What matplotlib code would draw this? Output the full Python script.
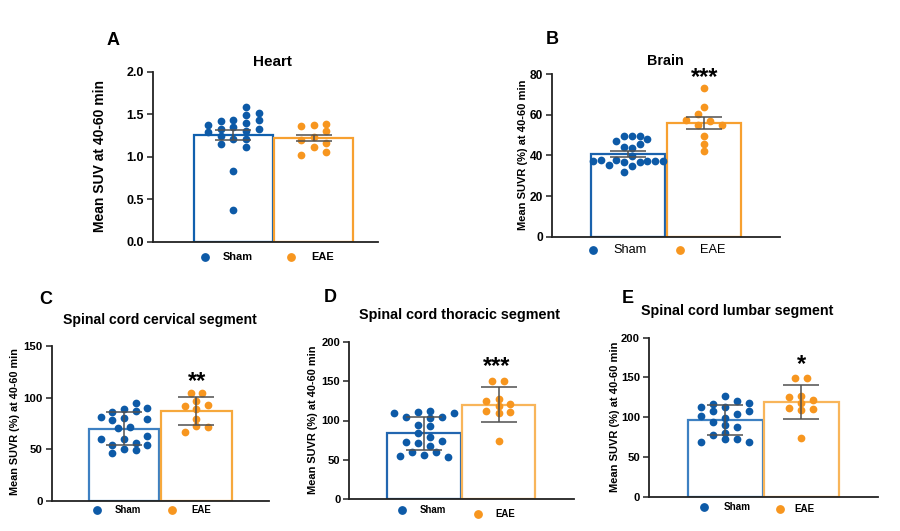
import matplotlib
matplotlib.use("Agg")
import matplotlib.pyplot as plt
from matplotlib.lines import Line2D
import numpy as np

plt.rcParams['font.family'] = ['Liberation Sans', 'DejaVu Sans']

groups = ["Sham", "EAE"]

# ---------------- data ----------------
# Panel A: Heart
A_sham = [1.37, 1.29, 1.42, 1.33, 1.24, 1.15, 1.43, 1.35, 1.21, 0.83, 0.37,
          1.585, 1.49, 1.40, 1.30, 1.21, 1.11, 1.52, 1.43, 1.33]
A_sham_x = [-0.318, -0.318, -0.159, -0.159, -0.159, -0.159, 0, 0, 0, 0, 0,
            0.159, 0.159, 0.159, 0.159, 0.159, 0.159, 0.318, 0.318, 0.318]
A_eae = [1.365, 1.20, 1.02, 1.375, 1.23, 1.12, 1.385, 1.30, 1.165, 1.06]
A_eae_x = [-0.158, -0.158, -0.158, 0, 0, 0, 0.158, 0.158, 0.158, 0.158]
A_mean = [1.26, 1.22]
A_err = [0.06, 0.04]

# Panel B: Brain
B_sham = [37.4, 37.8, 35.2, 37.8, 47.0, 49.6, 44.0, 36.9, 32.0, 49.6, 43.8, 39.8, 34.7,
          49.6, 45.5, 36.7, 48.0, 37.3, 37.3, 37.1]
B_sham_x = [-0.465, -0.364, -0.258, -0.158, -0.158, -0.057, -0.057, -0.057, -0.057,
            0.049, 0.049, 0.049, 0.049, 0.150, 0.150, 0.150, 0.250, 0.250, 0.356, 0.457]
B_eae = [73.1, 63.7, 49.6, 45.5, 42.2, 60.3, 55.0, 57.5, 56.8, 55.2]
B_eae_x = [0, 0, 0, 0, 0, -0.079, -0.079, -0.237, 0.084, 0.242]
B_mean = [40.7, 55.9]
B_err = [1.4, 2.9]

# Panel C: Spinal cord cervical segment
C_sham = [80.9, 59.5, 85.7, 78.5, 54.0, 46.0, 70.2, 89.2, 80.2, 59.5, 50.1, 71.8,
          95.0, 87.3, 56.0, 48.9, 89.6, 79.5, 62.7, 54.0]
C_sham_x = [-0.323, -0.323, -0.161, -0.161, -0.161, -0.161, -0.08, 0, 0, 0, 0, 0.079,
            0.162, 0.162, 0.162, 0.162, 0.319, 0.319, 0.319, 0.319]
C_eae = [92.1, 66.3, 104.7, 97.0, 88.9, 79.2, 72.4, 104.7, 93.1, 71.8]
C_eae_x = [-0.159, -0.159, -0.077, 0, 0, 0, 0, 0.080, 0.163, 0.163]
C_mean = [70.0, 86.9]
C_err = [16.0, 13.8]

# Panel D: Spinal cord thoracic segment
D_sham = [109.9, 54.9, 104.4, 72.3, 60.0, 110.4, 94.3, 84.5, 71.4, 56.2,
          112.1, 102.8, 93.0, 78.7, 67.6, 60.4, 104.4, 73.6, 53.3, 109.9]
D_sham_x = [-0.401, -0.325, -0.244, -0.244, -0.164, -0.083, -0.083, -0.083, -0.083, 0,
            0.078, 0.078, 0.078, 0.078, 0.078, 0.158, 0.239, 0.239, 0.319, 0.400]
D_eae = [150.5, 150.1, 125.1, 111.7, 126.9, 118.8, 109.1, 73.6, 120.9, 110.4]
D_eae_x = [-0.086, 0.075, -0.166, -0.166, 0, 0, 0, 0, 0.156, 0.156]
D_mean = [83.7, 119.9]
D_err = [21.1, 22.2]

# Panel E: Spinal cord lumbar segment
E_sham = [112.5, 101.5, 69.2, 117.0, 107.4, 93.6, 77.6, 127.0, 113.2, 99.0, 90.2, 80.5, 72.2,
          120.0, 104.0, 87.3, 72.6, 117.5, 107.8, 69.2]
E_sham_x = [-0.32, -0.32, -0.32, -0.16, -0.16, -0.16, -0.16, 0, 0, 0, 0, 0, 0,
            0.155, 0.155, 0.155, 0.155, 0.315, 0.315, 0.315]
E_eae = [149.7, 149.7, 125.0, 112.0, 126.7, 117.9, 109.1, 73.5, 121.3, 110.7]
E_eae_x = [-0.085, 0.075, -0.165, -0.165, 0, 0, 0, 0, 0.155, 0.155]
E_mean = [96.9, 119.3]
E_err = [18.9, 21.6]

titles = ["Heart", "Brain", "Spinal cord cervical segment",
          "Spinal cord thoracic segment", "Spinal cord lumbar segment"]
letters = ["A", "B", "C", "D", "E"]
ylabels = ["Mean SUV at 40-60 min"] + ["Mean SUVR (%) at 40-60 min"] * 4
significance = ["", "***", "**", "***", "*"]
yticks = [[0.0, 0.5, 1.0, 1.5, 2.0], [0, 20, 40, 60, 80], [0, 50, 100, 150],
          [0, 50, 100, 150, 200], [0, 50, 100, 150, 200]]

# ---------------- style ----------------
W, H = 900, 531
fig = plt.figure(figsize=(W / 100, H / 100), dpi=100)

BLUE = "#0d5aa7"
ORANGE = "#f7961f"
EDGE_BLUE = ["#1060ae", "#1a62ad", "#3d80c2", "#2266b0", "#3d80c2"]
EDGE_ORANGE = ["#f7a030", "#f7a030", "#f6a83c", "#f8b55a", "#f8b55a"]
ERRC = "#505050"

# pixel layout per panel: x0, x1, y_top, y_bottom, xmax
layout = [
    dict(x0=153, x1=378, yt=71.7, yb=241.7, xmax=1.80),
    dict(x0=552.3, x1=780, yt=74.3, yb=236.7, xmax=2.0),
    dict(x0=51.7, x1=269.3, yt=346, yb=500.7, xmax=2.01),
    dict(x0=349.3, x1=574, yt=341.7, yb=499.3, xmax=2.01),
    dict(x0=649, x1=878.3, yt=337.7, yb=496.7, xmax=2.01),
]
title_pos = [(272.7, 62), (665.7, 60.7), (160, 320), (460, 315), (736.7, 311)]
title_size = [11, 10.3, 10.1, 10.4, 10.3]
letter_pos = [(113.3, 40.7), (552.3, 40), (45.7, 300), (330, 297.7), (627.7, 298.3)]
ylabel_pos = [(100.5, 156), (523.3, 155), (15, 422), (312.7, 420), (615, 417)]
ylabel_size = [10, 8, 7.8, 7.9, 8]
tick_size = [9, 8.6, 8.2, 8.0, 8.1]
star_pos = [None, (704.7, 73.3), (196.7, 376.7), (496.7, 362.3), (801.3, 360)]
legend_y = [(257, 257), (250, 250), (510, 510), (510, 514), (507, 509)]
legend_x = [(205, 222.7, 291, 311.7), (593, 613.3, 680, 700), (97, 115, 172.3, 191.7),
            (402, 420, 478.3, 495), (703.7, 723.3, 780.3, 794)]
legend_size = [7.9, 9.2, 6.9, 6.9, 7.1]
legend_weight = ["bold", "normal", "bold", "bold", "bold"]

data = [
    (A_sham, A_sham_x, A_eae, A_eae_x, A_mean, A_err),
    (B_sham, B_sham_x, B_eae, B_eae_x, B_mean, B_err),
    (C_sham, C_sham_x, C_eae, C_eae_x, C_mean, C_err),
    (D_sham, D_sham_x, D_eae, D_eae_x, D_mean, D_err),
    (E_sham, E_sham_x, E_eae, E_eae_x, E_mean, E_err),
]


def fx(px):
    return px / W


def fy(py):
    return 1 - py / H


for i, (sham, sham_x, eae, eae_x, means, errs) in enumerate(data):
    L = layout[i]
    ax = fig.add_axes([fx(L["x0"]), fy(L["yb"]), (L["x1"] - L["x0"]) / W,
                       (L["yb"] - L["yt"]) / H])
    pos = np.arange(len(groups))
    ax.bar(pos, means, width=0.98, color="white",
           edgecolor=[EDGE_BLUE[i], EDGE_ORANGE[i]], linewidth=1.6, zorder=2)
    ax.scatter(pos[0] + np.array(sham_x), sham, s=31, color=BLUE, zorder=3, linewidths=0)
    ax.scatter(pos[1] + np.array(eae_x), eae, s=31, color=ORANGE, zorder=3, linewidths=0)
    ax.errorbar(pos, means, yerr=errs, fmt="none", ecolor=ERRC, elinewidth=1.1,
                capsize=13, capthick=1.1, zorder=4)
    ax.set_xlim(-1.0, L["xmax"])
    ax.set_ylim(yticks[i][0], yticks[i][-1])
    ax.set_yticks(yticks[i])
    if i == 0:
        ax.set_yticklabels([f"{t:.1f}" for t in yticks[i]])
    ax.set_xticks([])
    for s in ["top", "right"]:
        ax.spines[s].set_visible(False)
    for s in ["left", "bottom"]:
        ax.spines[s].set_linewidth(1.3)
        ax.spines[s].set_color("#222222")
    ax.tick_params(axis="y", direction="out", length=4.5, width=1.1, color="#222222",
                   labelsize=tick_size[i], pad=2)
    for lab in ax.get_yticklabels():
        lab.set_fontweight("bold")

    fig.text(fx(title_pos[i][0]), fy(title_pos[i][1]), titles[i], ha="center", va="center",
             fontsize=title_size[i], fontweight="bold")
    fig.text(fx(letter_pos[i][0]), fy(letter_pos[i][1]), letters[i], ha="center", va="center",
             fontsize=13, fontweight="bold")
    fig.text(fx(ylabel_pos[i][0]), fy(ylabel_pos[i][1]), ylabels[i], ha="center", va="center",
             rotation=90, fontsize=ylabel_size[i], fontweight="bold")
    if significance[i]:
        sx, sy = star_pos[i]
        fig.text(fx(sx), fy(sy + 4.5), significance[i], ha="center", va="center",
                 fontsize=17, fontweight="bold")

    # legend
    bx, tx, ox, ex = legend_x[i]
    y1, y2 = legend_y[i]
    fig.add_artist(Line2D([fx(bx)], [fy(y1)], marker="o", markersize=5.3, color=BLUE,
                          linestyle="none", transform=fig.transFigure))
    fig.text(fx(tx), fy(y1), groups[0], ha="left", va="center", fontsize=legend_size[i],
             fontweight=legend_weight[i])
    fig.add_artist(Line2D([fx(ox)], [fy(y2)], marker="o", markersize=5.3, color=ORANGE,
                          linestyle="none", transform=fig.transFigure))
    fig.text(fx(ex), fy(y2), groups[1], ha="left", va="center", fontsize=legend_size[i],
             fontweight=legend_weight[i])

fig.savefig("out.png", dpi=100, facecolor="white")
